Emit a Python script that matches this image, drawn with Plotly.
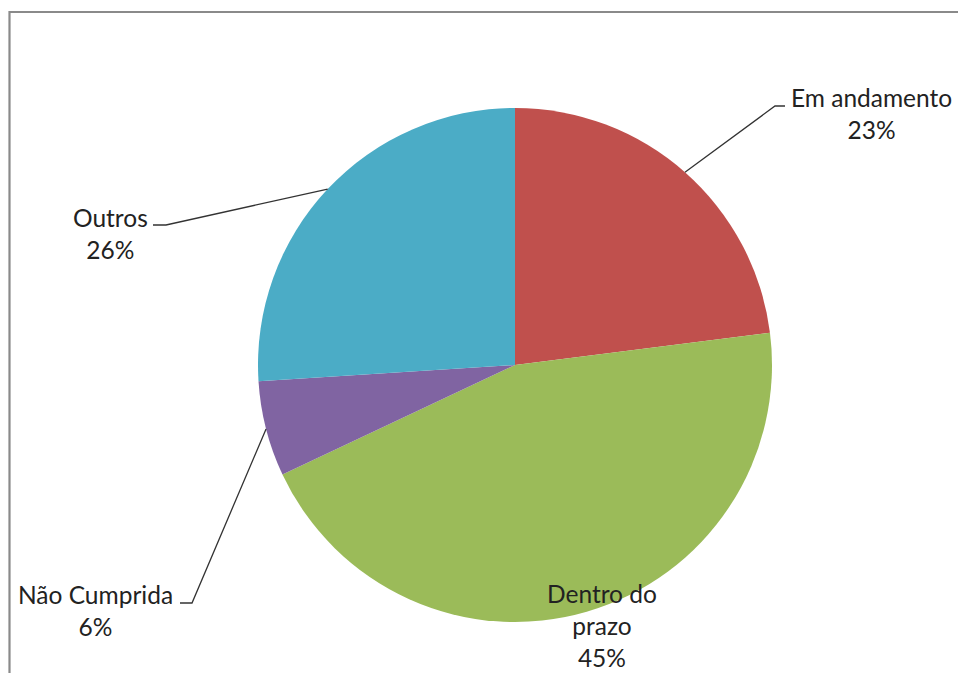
import math
import plotly.graph_objects as go

# ---- data ----
labels = ["Em andamento", "Dentro do prazo", "Não Cumprida", "Outros"]
values = [23, 45, 6, 26]
colors = ["#C0504D", "#9BBB59", "#8064A2", "#4BACC6"]

W, H = 958, 673              # figure size
CX, CY, R = 515, 365, 257    # pie centre / radius in pixels


def px(x):
    return x / W


def py(y):
    return (H - y) / H


fig = go.Figure(go.Pie(
    labels=labels,
    values=values,
    sort=False,
    direction="clockwise",
    rotation=0,
    marker=dict(colors=colors, line=dict(color="white", width=0)),
    textinfo="none",
    hoverinfo="label+percent",
    showlegend=False,
    domain=dict(x=[px(CX - R), px(CX + R)], y=[py(CY + R), py(CY - R)]),
))

# mid angle of each slice (clockwise from 12 o'clock)
total = sum(values)
mids = []
acc = 0
for v in values:
    mids.append((acc + v / 2) / total * 2 * math.pi)
    acc += v


def edge(i):
    a = mids[i]
    return CX + R * math.sin(a), CY - R * math.cos(a)


font = dict(family="Lato, Open Sans, sans-serif", size=24.5, color="#222222")
pct = [f"{round(v / total * 100)}%" for v in values]

# label blocks (pixel centre) and elbow points for leader lines
label_pos = {
    0: (871, 114),
    1: (602, 625),
    2: (95, 610),
    3: (110, 233),
}
elbows = {
    0: ((775, 106), (785, 106)),
    2: ((192, 603), (180, 603)),
    3: ((166, 225), (153, 225)),
}
label_text = {
    0: "Em andamento<br>" + pct[0],
    1: "Dentro do<br>prazo<br>" + pct[1],
    2: "Não Cumprida<br>" + pct[2],
    3: "Outros<br>" + pct[3],
}

for i, (x, y) in label_pos.items():
    fig.add_annotation(x=px(x), y=py(y), xref="paper", yref="paper",
                       text=label_text[i], showarrow=False, font=font,
                       xanchor="center", yanchor="middle", align="center")

for i, (p1, p2) in elbows.items():
    ex, ey = edge(i)
    fig.add_shape(type="path", xref="paper", yref="paper",
                  path=f"M {px(ex)},{py(ey)} L {px(p1[0])},{py(p1[1])} L {px(p2[0])},{py(p2[1])}",
                  line=dict(color="#333333", width=1.3))

# outer chart border
fig.add_shape(type="rect", xref="paper", yref="paper",
              x0=px(9.5), y0=-0.02, x1=1.02, y1=py(12),
              line=dict(color="#8a8a8a", width=2.2), fillcolor="rgba(0,0,0,0)")

fig.update_layout(
    width=W, height=H,
    margin=dict(l=0, r=0, t=0, b=0),
    paper_bgcolor="white",
    plot_bgcolor="white",
)

fig.write_html(
    "out.html",
    config={"displayModeBar": False},
    post_script="document.body.style.margin='0';"
                "document.documentElement.style.overflow='hidden';"
                "document.body.style.overflow='hidden';",
)
